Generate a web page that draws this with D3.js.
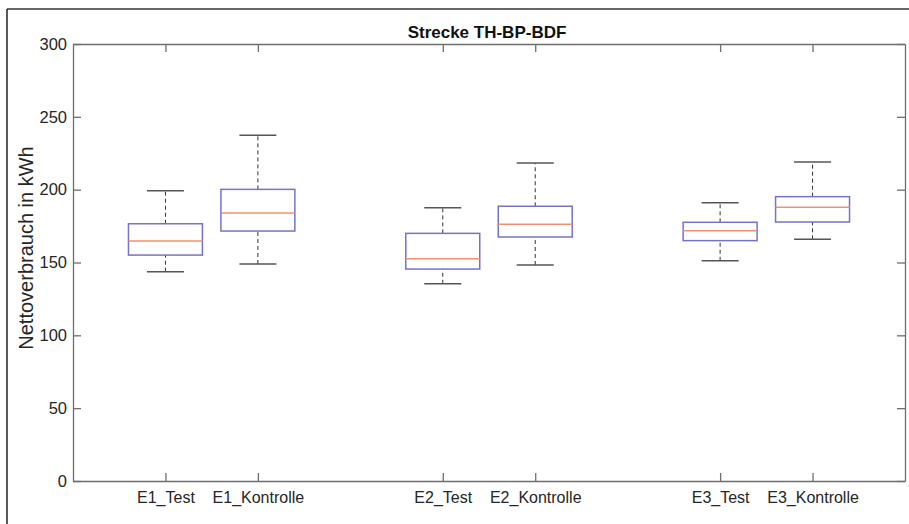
<!DOCTYPE html>
<html>
<head>
<meta charset="utf-8">
<script src="https://cdn.jsdelivr.net/npm/d3@7"></script>
<style>
  html, body { margin: 0; padding: 0; background: #fff; }
  svg { display: block; font-family: "Liberation Sans", Arial, Helvetica, sans-serif; }
</style>
</head>
<body>
<svg id="chart" width="909" height="524"></svg>
<script>
const categories = ["E1_Test", "E1_Kontrolle", "E2_Test", "E2_Kontrolle", "E3_Test", "E3_Kontrolle"];
const groupPositions = [1, 2, 4, 5, 7, 8];
const whiskerLow  = [143.7, 149.0, 135.4, 148.3, 151.2, 165.9];
const q1          = [155.1, 171.6, 145.5, 167.5, 165.0, 177.8];
const medians     = [164.8, 184.0, 152.6, 176.2, 171.8, 187.9];
const q3          = [176.6, 200.2, 170.0, 188.6, 177.6, 195.2];
const whiskerHigh = [199.3, 237.3, 187.6, 218.3, 191.0, 219.0];
const yTicks = [0, 50, 100, 150, 200, 250, 300];
const titleText = "Strecke TH-BP-BDF";
const yLabel = "Nettoverbrauch in kWh";

const svg = d3.select("#chart");
const W = 909, H = 524;
const m = { left: 73, top: 44, right: 905, bottom: 481 };

// outer frame
svg.append("line").attr("x1", 7).attr("x2", W).attr("y1", 9).attr("y2", 9)
  .attr("stroke", "#666").attr("stroke-width", 2);
svg.append("line").attr("x1", 7).attr("x2", 7).attr("y1", 9).attr("y2", H)
  .attr("stroke", "#222").attr("stroke-width", 1.5);

const x = d3.scaleLinear().domain([0, 9]).range([m.left, m.right]);
const y = d3.scaleLinear().domain([0, 300]).range([m.bottom, m.top]);

const data = categories.map((c, i) => ({
  cat: c, pos: groupPositions[i], lo: whiskerLow[i], q1: q1[i], med: medians[i], q3: q3[i], hi: whiskerHigh[i]
}));

const tickLen = 8;
const axisColor = "#6e6e6e";
const textColor = "#262626";

// axes
const gB = svg.append("g").attr("transform", `translate(0,${m.bottom})`)
  .call(d3.axisBottom(x).tickValues(groupPositions).tickFormat((d, i) => categories[i]).tickSizeInner(-tickLen).tickSizeOuter(0).tickPadding(11));
const gT = svg.append("g").attr("transform", `translate(0,${m.top})`)
  .call(d3.axisTop(x).tickValues(groupPositions).tickFormat("").tickSizeInner(-tickLen).tickSizeOuter(0));
const gL = svg.append("g").attr("transform", `translate(${m.left},0)`)
  .call(d3.axisLeft(y).tickValues(yTicks).tickSizeInner(-tickLen).tickSizeOuter(0).tickPadding(6));
const gR = svg.append("g").attr("transform", `translate(${m.right},0)`)
  .call(d3.axisRight(y).tickValues(yTicks).tickFormat("").tickSizeInner(-tickLen).tickSizeOuter(0));

[gB, gT, gL, gR].forEach(g => {
  g.select(".domain").attr("stroke", axisColor).attr("stroke-width", 1.3);
  g.selectAll(".tick line").attr("stroke", axisColor).attr("stroke-width", 1.3);
  g.selectAll(".tick text").attr("fill", textColor).style("font-size", "16px")
    .style("font-family", '"Liberation Sans", Arial, sans-serif');
});
gL.selectAll(".tick text").style("font-size", "16.5px");

// boxes
const boxW = 0.8, capW = 0.4;
const gBox = svg.append("g");
const b = gBox.selectAll("g.box").data(data).join("g").attr("class", "box");

b.append("line").attr("x1", d => x(d.pos)).attr("x2", d => x(d.pos))
  .attr("y1", d => y(d.q3)).attr("y2", d => y(d.hi))
  .attr("stroke", "#333").attr("stroke-width", 1).attr("stroke-dasharray", "4,3");
b.append("line").attr("x1", d => x(d.pos)).attr("x2", d => x(d.pos))
  .attr("y1", d => y(d.lo)).attr("y2", d => y(d.q1))
  .attr("stroke", "#333").attr("stroke-width", 1).attr("stroke-dasharray", "4,3");
b.append("line").attr("x1", d => x(d.pos - capW / 2)).attr("x2", d => x(d.pos + capW / 2))
  .attr("y1", d => y(d.hi)).attr("y2", d => y(d.hi))
  .attr("stroke", "#555").attr("stroke-width", 1.5);
b.append("line").attr("x1", d => x(d.pos - capW / 2)).attr("x2", d => x(d.pos + capW / 2))
  .attr("y1", d => y(d.lo)).attr("y2", d => y(d.lo))
  .attr("stroke", "#555").attr("stroke-width", 1.5);
b.append("rect").attr("x", d => x(d.pos - boxW / 2)).attr("width", x(boxW) - x(0))
  .attr("y", d => y(d.q3)).attr("height", d => y(d.q1) - y(d.q3))
  .attr("fill", "none").attr("stroke", "#7673c6").attr("stroke-width", 1.5);
b.append("line").attr("x1", d => x(d.pos - boxW / 2)).attr("x2", d => x(d.pos + boxW / 2))
  .attr("y1", d => y(d.med)).attr("y2", d => y(d.med))
  .attr("stroke", "#f2906f").attr("stroke-width", 1.5);

// title
svg.append("text").attr("x", (m.left + m.right) / 2 - 2).attr("y", 38)
  .attr("text-anchor", "middle").attr("fill", "#111")
  .style("font-size", "17px").style("font-weight", "bold").text(titleText);

// y label
svg.append("text").attr("transform", `translate(33,248) rotate(-90)`)
  .attr("text-anchor", "middle").attr("fill", textColor)
  .style("font-size", "20px").text(yLabel);
</script>
</body>
</html>
